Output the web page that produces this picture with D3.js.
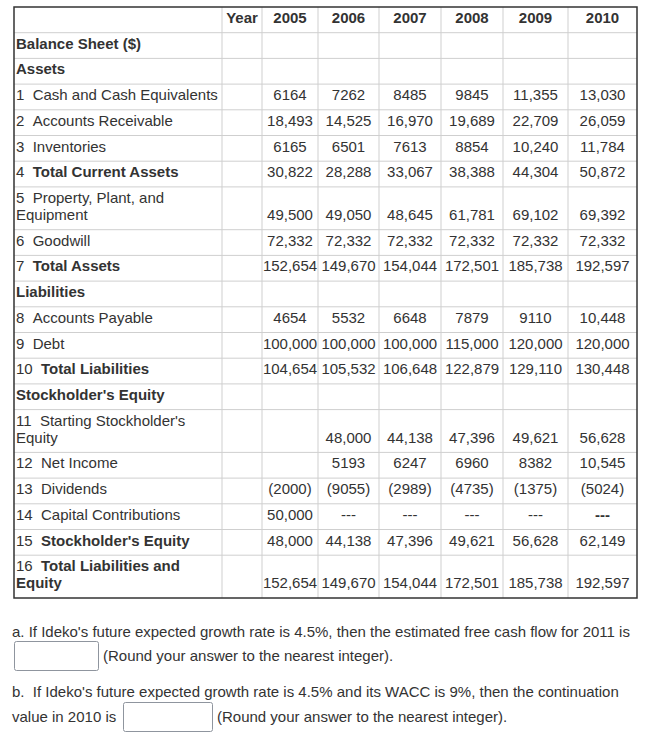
<!DOCTYPE html>
<html>
<head>
<meta charset="utf-8">
<script src="https://cdn.jsdelivr.net/npm/d3@7/dist/d3.min.js"></script>
<style>
  html, body { margin: 0; padding: 0; background: #fff; }
  svg { display: block; }
  text { font-family: "Liberation Sans", Arial, Helvetica, sans-serif; font-size: 15px; fill: #333; white-space: pre; }
</style>
</head>
<body>
<svg id="chart" width="654" height="742"></svg>
<script>
// ---------- data ----------
const years = ["2005", "2006", "2007", "2008", "2009", "2010"];
const rowNumbers = [null, null, 1, 2, 3, 4, 5, 6, 7, null, 8, 9, 10, null, 11, 12, 13, 14, 15, 16];
const rowLabels = [
  "Balance Sheet ($)", "Assets", "Cash and Cash Equivalents", "Accounts Receivable", "Inventories",
  "Total Current Assets", "Property, Plant, and|Equipment", "Goodwill", "Total Assets", "Liabilities",
  "Accounts Payable", "Debt", "Total Liabilities", "Stockholder's Equity", "Starting Stockholder's|Equity",
  "Net Income", "Dividends", "Capital Contributions", "Stockholder's Equity", "Total Liabilities and|Equity"
];
const boldRows = [true, true, false, false, false, true, false, false, true, true,
                  false, false, true, true, false, false, false, false, true, true];

const blank = [null, null, null, null, null, null];
const cashEquivalents = [6164, 7262, 8485, 9845, 11355, 13030];
const accountsReceivable = [18493, 14525, 16970, 19689, 22709, 26059];
const inventories = [6165, 6501, 7613, 8854, 10240, 11784];
const totalCurrentAssets = [30822, 28288, 33067, 38388, 44304, 50872];
const propertyPlantEquipment = [49500, 49050, 48645, 61781, 69102, 69392];
const goodwill = [72332, 72332, 72332, 72332, 72332, 72332];
const totalAssets = [152654, 149670, 154044, 172501, 185738, 192597];
const accountsPayable = [4654, 5532, 6648, 7879, 9110, 10448];
const debt = [100000, 100000, 100000, 115000, 120000, 120000];
const totalLiabilities = [104654, 105532, 106648, 122879, 129110, 130448];
const startingEquity = [null, 48000, 44138, 47396, 49621, 56628];
const netIncome = [null, 5193, 6247, 6960, 8382, 10545];
const dividends = [-2000, -9055, -2989, -4735, -1375, -5024];
const capitalContributions = [50000, "---", "---", "---", "---", "---"];
const stockholdersEquity = [48000, 44138, 47396, 49621, 56628, 62149];
const totalLiabilitiesEquity = [152654, 149670, 154044, 172501, 185738, 192597];

const rowValues = [blank, blank, cashEquivalents, accountsReceivable, inventories, totalCurrentAssets,
  propertyPlantEquipment, goodwill, totalAssets, blank, accountsPayable, debt, totalLiabilities, blank,
  startingEquity, netIncome, dividends, capitalContributions, stockholdersEquity, totalLiabilitiesEquity];

const questionA = "a. If Ideko's future expected growth rate is 4.5%, then the estimated free cash flow for 2011 is";
const questionB = "b.  If Ideko's future expected growth rate is 4.5% and its WACC is 9%, then the continuation";
const questionB2 = "value in 2010 is";
const roundNote = "(Round your answer to the nearest integer).";

// ---------- layout ----------
const colEdges = [14, 222, 262, 318, 379, 441, 503, 568, 637];
const tableTop = 7;
const singleH = 25.7, lineH = 17.1, baseOff = 9.7;
const svg = d3.select("#chart");

const fmtBig = d3.format(",");
function fmt(v) {
  if (v === null || v === undefined) return "";
  if (typeof v === "string") return v;
  const a = Math.abs(v);
  const s = a >= 10000 ? fmtBig(a) : String(a);
  return v < 0 ? "(" + s + ")" : s;
}

// rows model
const rows = rowLabels.map((lab, i) => {
  const lines = lab.split("|");
  return { num: rowNumbers[i], lines, bold: boldRows[i], values: rowValues[i],
           h: singleH + (lines.length - 1) * lineH };
});
let y = tableTop + singleH; // header row first
rows.forEach(r => { r.y = y; y += r.h; });
const tableBottom = y;

const gLines = svg.append("g");
const hLines = [tableTop + singleH].concat(rows.slice(0, -1).map(r => r.y + r.h));
gLines.selectAll("line.h").data(hLines).join("line")
  .attr("x1", colEdges[0]).attr("x2", colEdges[colEdges.length - 1])
  .attr("y1", d => d).attr("y2", d => d)
  .attr("stroke", "#cfcfcf").attr("stroke-width", 1);
gLines.selectAll("line.v").data(colEdges.slice(1, -1)).join("line")
  .attr("x1", d => d).attr("x2", d => d)
  .attr("y1", tableTop).attr("y2", tableBottom)
  .attr("stroke", "#cfcfcf").attr("stroke-width", 1);
gLines.append("rect")
  .attr("x", colEdges[0]).attr("y", tableTop)
  .attr("width", colEdges[colEdges.length - 1] - colEdges[0])
  .attr("height", tableBottom - tableTop)
  .attr("fill", "none").attr("stroke", "#333").attr("stroke-width", 1.5);

// header
const headerBase = tableTop + singleH - baseOff;
svg.append("text").attr("x", (colEdges[1] + colEdges[2]) / 2).attr("y", headerBase)
  .attr("text-anchor", "middle").attr("font-weight", "bold").text("Year");
svg.selectAll("text.yr").data(years).join("text").attr("class", "yr")
  .attr("x", (d, i) => (colEdges[i + 2] + colEdges[i + 3]) / 2)
  .attr("y", headerBase).attr("text-anchor", "middle").attr("font-weight", "bold")
  .text(d => d);

// body rows
const gRows = svg.selectAll("g.row").data(rows).join("g").attr("class", "row");
gRows.each(function (r) {
  const g = d3.select(this);
  const lastBase = r.y + r.h - baseOff;
  r.lines.forEach((ln, li) => {
    const t = g.append("text").attr("x", 16)
      .attr("y", lastBase - (r.lines.length - 1 - li) * lineH);
    if (li === 0 && r.num !== null) {
      t.append("tspan").text(r.num + "\u00a0\u00a0");
    }
    t.append("tspan").attr("font-weight", r.bold ? "bold" : "normal").text(ln);
  });
  g.selectAll("text.val").data(r.values).join("text").attr("class", "val")
    .attr("x", (d, i) => (colEdges[i + 2] + colEdges[i + 3]) / 2)
    .attr("y", lastBase).attr("text-anchor", "middle")
    .attr("font-weight", (d, i) => (d === "---" && i === 5) ? "bold" : "normal")
    .text(d => fmt(d));
});

// questions
const gQ = svg.append("g");
gQ.append("text").attr("x", 12).attr("y", 637).text(questionA);
gQ.append("rect").attr("x", 14.5).attr("y", 641.5).attr("width", 84).attr("height", 29).attr("rx", 2)
  .attr("fill", "#fff").attr("stroke", "#8f959e").attr("stroke-width", 1);
gQ.append("text").attr("x", 103).attr("y", 661).text(roundNote);
gQ.append("text").attr("x", 12).attr("y", 697).text(questionB);
gQ.append("text").attr("x", 12).attr("y", 722).text(questionB2);
gQ.append("rect").attr("x", 123.5).attr("y", 702.5).attr("width", 89).attr("height", 29).attr("rx", 2)
  .attr("fill", "#fff").attr("stroke", "#8f959e").attr("stroke-width", 1);
gQ.append("text").attr("x", 217).attr("y", 722).text(roundNote);
</script>
</body>
</html>
